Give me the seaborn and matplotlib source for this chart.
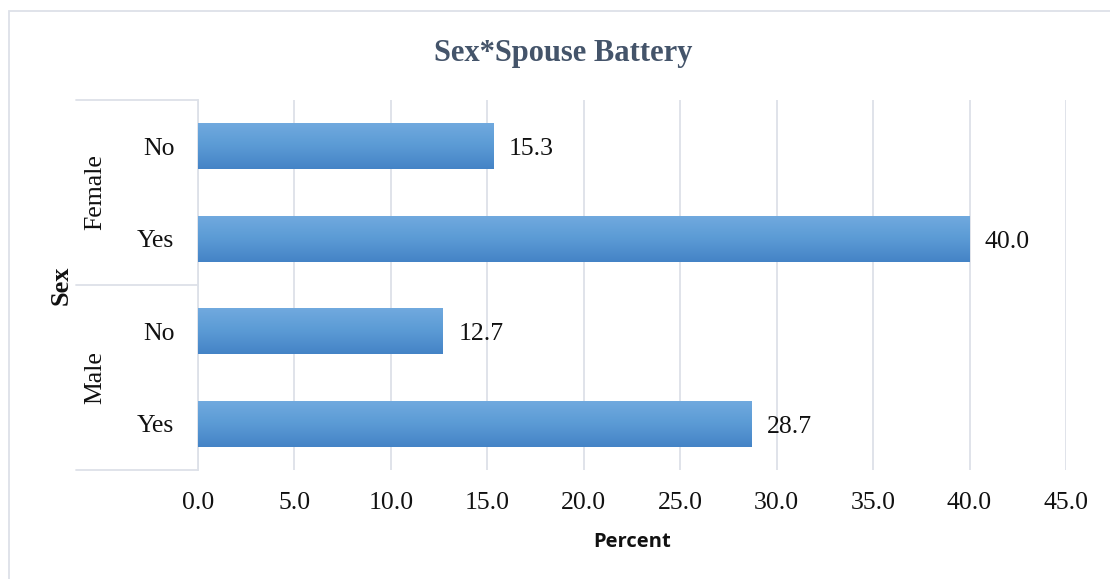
import matplotlib
matplotlib.use("Agg")
import matplotlib.pyplot as plt
import seaborn as sns
import numpy as np
import pandas as pd
from matplotlib.colors import LinearSegmentedColormap
from matplotlib.patches import Rectangle

# ---- data ----
keys = ["Female No", "Female Yes", "Male No", "Male Yes"]
tick_labels = ["No", "Yes", "No", "Yes"]
groups = ["Female", "Male"]
percent = [15.3, 40.0, 12.7, 28.7]
x_ticks = [0, 5, 10, 15, 20, 25, 30, 35, 40, 45]

df = pd.DataFrame({"key": keys, "Percent": percent})

sns.set_theme(style="white")
plt.rcParams["font.family"] = ["Liberation Serif", "DejaVu Serif"]

FS = 18.5
TXT = "#111111"
GRID = "#DDE1E8"

fig = plt.figure(figsize=(11.10, 5.79), dpi=100)
ax = fig.add_axes([198/1110, 1-470/579, (1066-198)/1110, 370/579])

sns.barplot(data=df, y="key", x="Percent", order=keys, orient="h",
            color="#5B9BD5", width=0.5, ax=ax, saturation=1)

# gradient fill on each bar
cmap = LinearSegmentedColormap.from_list("g", ["#72AADF", "#5B9BD5", "#4483C6"])
grad = np.linspace(0, 1, 256).reshape(-1, 1)
for p in list(ax.patches):
    x0, y0 = p.get_x(), p.get_y()
    w, h = p.get_width(), p.get_height()
    im = ax.imshow(grad, cmap=cmap, aspect="auto",
                   extent=[x0, x0 + w, y0 + h, y0], origin="upper", zorder=3)
    im.set_clip_path(p)
    p.set_edgecolor("none")
ax.set_xlim(0, 45)
ax.set_ylim(3.5, -0.5)

# grid / ticks
ax.set_xticks(x_ticks)
ax.set_xticklabels([f"{t:.1f}" for t in x_ticks], fontsize=FS, color=TXT)
ax.xaxis.grid(True, color=GRID, linewidth=1.3)
ax.set_axisbelow(True)
ax.tick_params(axis="x", length=0, pad=16)
ax.tick_params(axis="y", length=0, pad=17)
ax.set_yticks(range(len(keys)))
ax.set_yticklabels(tick_labels, fontsize=FS, color=TXT)
for s in ["top", "right", "bottom"]:
    ax.spines[s].set_visible(False)
ax.spines["left"].set_color(GRID)
ax.spines["left"].set_linewidth(1.3)
ax.set_ylabel("")
ax.set_xlabel("Percent", fontsize=14.5, fontweight="bold", family=["Open Sans", "DejaVu Sans"],
              labelpad=13, color=TXT)

# value labels
for i, v in enumerate(percent):
    ax.text(v + 0.8, i + 0.035, f"{v:.1f}", va="center", ha="left", fontsize=FS, color=TXT)

# hierarchical category brackets
xl = (76 - 198) / 868
for yy in [0.0, 0.5, 1.0]:
    ax.plot([xl, 0], [yy, yy], transform=ax.transAxes, color=GRID,
            linewidth=1.3, clip_on=False)
ax.text((95 - 198) / 868, 0.75, groups[0], transform=ax.transAxes, rotation=90,
        ha="center", va="center", fontsize=FS, color=TXT)
ax.text((95 - 198) / 868, 0.25, groups[1], transform=ax.transAxes, rotation=90,
        ha="center", va="center", fontsize=FS, color=TXT)
fig.text(61 / 1110, 1 - 285 / 579, "Sex", rotation=90, ha="center", va="center",
         fontsize=19, fontweight="bold", color=TXT)

# title
fig.text(563 / 1110, 1 - 53 / 579, "Sex*Spouse Battery", ha="center", va="center",
         fontsize=22, fontweight="bold", color="#44546A")

# outer frame
fig.patches.append(Rectangle((9 / 1110, -0.1), 1.2, 1.1 - 11 / 579, transform=fig.transFigure,
                             fill=False, edgecolor=GRID, linewidth=1.3))

fig.savefig("out.png", dpi=100)
